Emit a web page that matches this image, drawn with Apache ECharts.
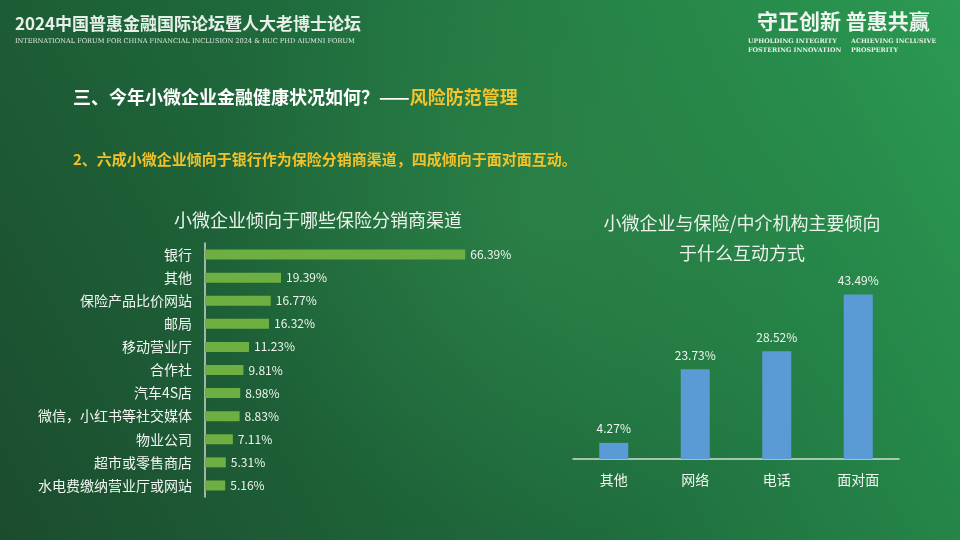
<!DOCTYPE html>
<html>
<head>
<meta charset="utf-8">
<script src="https://cdn.jsdelivr.net/npm/echarts@6/dist/echarts.min.js"></script>
<style>
html,body{margin:0;padding:0;width:960px;height:540px;overflow:hidden;background:#1d6a3c;}
#c{width:960px;height:540px;}
</style>
</head>
<body>
<div id="c"></div>
<script>
const channelCategories = ['银行','其他','保险产品比价网站','邮局','移动营业厅','合作社','汽车4S店','微信，小红书等社交媒体','物业公司','超市或零售商店','水电费缴纳营业厅或网站'];
const channelValues = [66.39,19.39,16.77,16.32,11.23,9.81,8.98,8.83,7.11,5.31,5.16];
const interactCategories = ['其他','网络','电话','面对面'];
const interactValues = [4.27,23.73,28.52,43.49];

const CJK = '"Noto Sans CJK SC","Noto Sans",sans-serif';
const SERIF = '"DejaVu Serif","Liberation Serif",serif';

const chart = echarts.init(document.getElementById('c'), null, {renderer:'canvas'});
chart.setOption({
  backgroundColor: {
    type:'linear', x:0, y:1, x2:1, y2:0,
    colorStops:[{offset:0,color:'#1b4c2e'},{offset:0.5,color:'#1f6e3e'},{offset:1,color:'#2b9a52'}]
  },
  graphic: [
    {type:'rect', z:-10, silent:true, shape:{x:0,y:0,width:960,height:540},
     style:{fill:{type:'radial',x:0.55,y:0.4,r:0.6,colorStops:[{offset:0,color:'rgba(60,150,80,0.35)'},{offset:1,color:'rgba(60,150,80,0)'}]}}},
    {type:'text', left:15, top:15, style:{text:'2024中国普惠金融国际论坛暨人大老博士论坛', fill:'#e6f0e8', font:'bold 17px '+CJK}},
    {type:'text', left:15, top:38, style:{text:'INTERNATIONAL FORUM FOR CHINA FINANCIAL INCLUSION 2024 & RUC PHD AIUMNI FORUM', fill:'#dfe9e1', font:'6.6px '+SERIF}},
    {type:'text', left:757, top:11, style:{text:'守正创新 普惠共赢', fill:'#eef5ee', font:'bold 21px '+CJK}},
    {type:'text', left:748, top:38, style:{text:'UPHOLDING INTEGRITY', fill:'#e6efe6', font:'bold 6.3px '+SERIF}},
    {type:'text', left:851, top:38, style:{text:'ACHIEVING INCLUSIVE', fill:'#e6efe6', font:'bold 6.3px '+SERIF}},
    {type:'text', left:748, top:47, style:{text:'FOSTERING INNOVATION', fill:'#e6efe6', font:'bold 6.3px '+SERIF}},
    {type:'text', left:851, top:47, style:{text:'PROSPERITY', fill:'#e6efe6', font:'bold 6.3px '+SERIF}},
    {type:'text', left:73, top:88, style:{
      text:'{w|三、今年小微企业金融健康状况如何？——}{y|风险防范管理}',
      rich:{w:{fill:'#ffffff', font:'bold 18px '+CJK}, y:{fill:'#f3c42c', font:'bold 18px '+CJK}}}},
    {type:'text', left:73, top:152, style:{text:'2、六成小微企业倾向于银行作为保险分销商渠道，四成倾向于面对面互动。', fill:'#f3c22a', font:'bold 15px '+CJK}}
  ],
  title: [
    {text:'小微企业倾向于哪些保险分销商渠道', left:313, top:206, textAlign:'center',
     textStyle:{color:'#eaf2ea', fontSize:18, fontWeight:'normal', fontFamily:CJK}},
    {text:'小微企业与保险/中介机构主要倾向\n于什么互动方式', left:737, top:203, textAlign:'center',
     textStyle:{color:'#eaf2ea', fontSize:18, fontWeight:'normal', fontFamily:CJK, lineHeight:30}}
  ],
  grid: [
    {left:205, top:243, width:392, height:254},
    {left:573, top:270, width:326, height:189}
  ],
  xAxis: [
    {gridIndex:0, type:'value', min:0, max:100, show:false},
    {gridIndex:1, type:'category', data:interactCategories,
     axisLine:{show:true, lineStyle:{color:'#cfe0d2', width:1.5}}, axisTick:{show:false},
     axisLabel:{color:'#f2f6f2', fontSize:14, fontFamily:CJK, margin:14}}
  ],
  yAxis: [
    {gridIndex:0, type:'category', data:channelCategories, inverse:true,
     axisLine:{show:true, lineStyle:{color:'#c6d8ca', width:1.5}}, axisTick:{show:false},
     axisLabel:{color:'#f2f6f2', fontSize:14, fontFamily:CJK, margin:13}},
    {gridIndex:1, type:'value', min:0, max:50, show:false, splitLine:{show:false}}
  ],
  series: [
    {type:'bar', xAxisIndex:0, yAxisIndex:0, data:channelValues, barWidth:10,
     itemStyle:{color:'#6eaf41'},
     label:{show:true, position:'right', distance:5, color:'#eef4ee', fontSize:12, fontFamily:CJK,
       formatter:p=>p.value.toFixed(2)+'%'}},
    {type:'bar', xAxisIndex:1, yAxisIndex:1, data:interactValues, barWidth:29,
     itemStyle:{color:'#5b9bd5'},
     label:{show:true, position:'top', distance:8, color:'#eef4ee', fontSize:12, fontFamily:CJK,
       formatter:p=>p.value.toFixed(2)+'%'}}
  ]
});
</script>
</body>
</html>
